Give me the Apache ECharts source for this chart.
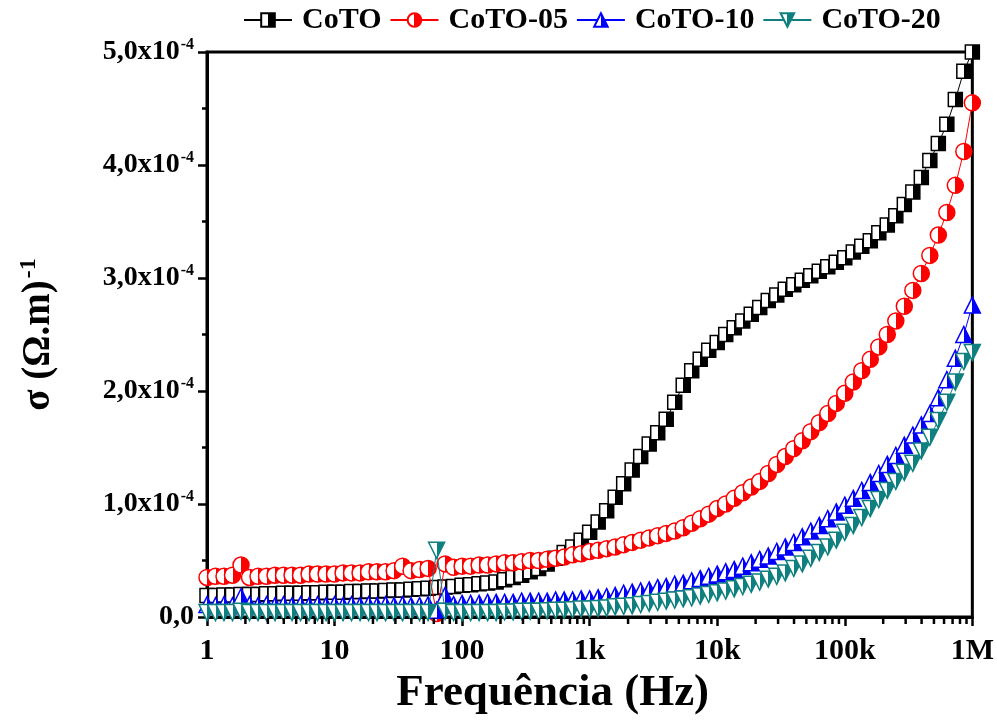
<!DOCTYPE html>
<html>
<head>
<meta charset="utf-8">
<script src="https://cdn.jsdelivr.net/npm/echarts@6/dist/echarts.min.js"></script>
<style>html,body{margin:0;padding:0;background:#fff}#c{width:997px;height:727px}</style>
</head>
<body>
<div id="c"></div>
<script>
// Frequencies (Hz)
const freqs = [1,1.166,1.359,1.585,1.848,2.154,2.512,2.929,3.415,3.981,4.642,5.412,6.31,7.356,8.577,
10,11.66,13.59,15.85,18.48,21.54,25.12,29.29,34.15,39.81,46.42,54.12,63.1,73.56,85.77,
100,116.6,135.9,158.5,184.8,215.4,251.2,292.9,341.5,398.1,464.2,541.2,631,735.6,857.7,
1000,1166,1359,1585,1848,2154,2512,2929,3415,3981,4642,5412,6310,7356,8577,
10000,11660,13590,15850,18480,21540,25120,29290,34150,39810,46420,54120,63100,73560,85770,
100000,116600,135900,158500,184800,215400,251200,292900,341500,398100,464200,541200,631000,735600,857700,
1000000];

// Conductivity in units of 1e-5 (Ω.m)^-1
const coto = [1.9,1.9,1.95,1.95,2.0,2.0,2.0,2.05,2.05,2.1,2.1,2.1,2.15,2.15,2.2,
2.2,2.2,2.25,2.25,2.3,2.3,2.35,2.4,2.4,2.45,2.5,2.55,2.6,2.65,2.7,
2.8,2.85,2.95,3.0,3.1,3.3,3.5,3.7,4.0,4.3,4.7,5.2,5.7,6.2,6.8,
7.5,8.4,9.4,10.6,11.8,13.0,14.2,15.3,16.3,17.5,19.0,20.5,21.8,22.8,23.6,
24.3,25.0,25.6,26.2,26.8,27.4,28.0,28.5,29.0,29.4,29.8,30.2,30.6,31.0,31.4,
31.8,32.3,32.8,33.3,34.0,34.7,35.5,36.5,37.6,38.9,40.4,41.9,43.6,45.8,48.3,50.0];

const coto05 = [3.5,3.6,3.6,3.7,4.6,3.5,3.6,3.6,3.7,3.7,3.7,3.7,3.8,3.8,3.8,
3.8,3.9,3.9,3.9,4.0,4.0,4.0,4.1,4.5,4.1,4.2,4.3,0.3,4.7,4.4,
4.5,4.5,4.6,4.6,4.7,4.8,4.8,4.9,5.0,5.0,5.1,5.2,5.3,5.5,5.6,
5.8,5.9,6.05,6.2,6.4,6.6,6.8,7.0,7.2,7.4,7.6,7.9,8.3,8.7,9.1,
9.6,10.0,10.5,11.0,11.5,12.0,12.7,13.5,14.2,14.9,15.6,16.4,17.2,18.0,18.9,
19.8,20.8,21.8,22.8,23.9,25.0,26.2,27.5,28.9,30.4,32.0,33.8,35.8,38.2,41.2,45.5];

const coto10 = [1.1,1.0,1.1,1.0,1.8,1.1,1.0,1.1,1.0,1.1,1.0,1.1,1.0,1.1,1.0,
1.1,1.0,1.1,1.0,1.1,1.0,1.1,1.0,1.1,1.0,1.0,1.1,0.6,1.9,1.1,
1.2,1.2,1.2,1.3,1.3,1.3,1.3,1.4,1.4,1.4,1.4,1.5,1.5,1.5,1.6,
1.6,1.7,1.8,1.9,2.1,2.2,2.3,2.4,2.6,2.7,2.9,3.0,3.2,3.4,3.6,
3.8,4.0,4.2,4.5,4.8,5.1,5.4,5.8,6.2,6.6,7.1,7.6,8.1,8.7,9.3,
9.9,10.5,11.2,11.9,12.7,13.5,14.3,15.2,16.1,17.0,18.0,19.4,21.0,22.9,25.0,27.6];

const coto20 = [0.4,0.4,0.4,0.4,0.5,0.4,0.4,0.4,0.4,0.4,0.4,0.4,0.4,0.4,0.4,
0.4,0.4,0.4,0.4,0.4,0.4,0.4,0.4,0.4,0.4,0.4,0.4,5.9,0.5,0.4,
0.4,0.4,0.4,0.4,0.4,0.45,0.45,0.5,0.5,0.5,0.55,0.6,0.6,0.65,0.7,
0.7,0.75,0.8,0.9,0.95,1.0,1.1,1.2,1.3,1.4,1.5,1.6,1.7,1.85,2.0,
2.15,2.3,2.5,2.7,2.9,3.1,3.35,3.6,3.9,4.3,4.7,5.2,5.7,6.2,6.8,
7.5,8.1,8.8,9.6,10.4,11.2,12.0,12.8,13.6,14.7,15.9,17.4,19.0,20.8,22.6,23.4];

const seriesNames = ['CoTO','CoTO-05','CoTO-10','CoTO-20'];
const xTickLabels = {1:'1',10:'10',100:'100',1000:'1k',10000:'10k',100000:'100k',1000000:'1M'};

const colors = ['#000000','#ff0000','#0000ff','#0f7f7f'];
const symbols = ['rect','circle','triangle','path://M0,0L10,0L5,10Z'];
const sizes = [14,16,16,16];

function half(c){
  return {type:'linear',x:0,y:0,x2:1,y2:0,colorStops:[
    {offset:0,color:'#ffffff'},{offset:0.5,color:'#ffffff'},
    {offset:0.5,color:c},{offset:1,color:c}]};
}

const allData = [coto, coto05, coto10, coto20];
const series = allData.map((vals,si)=>({
  name: seriesNames[si],
  type:'line',
  data: freqs.map((f,i)=>[f, vals[i]]),
  symbol: symbols[si],
  symbolSize: sizes[si],
  showAllSymbol: true,
  lineStyle:{color:colors[si], width:1},
  itemStyle:{color:half(colors[si]), borderColor:colors[si], borderWidth:1.5},
  emphasis:{disabled:true},
  animation:false,
  z: 2+si
}));

// minor log ticks on x axis
const minorX = [];
for (let d=1; d<1000000; d*=10) for (let m=2; m<=9; m++) minorX.push([m*d, 0]);
series.push({
  type:'custom', silent:true, clip:false, animation:false, z:10,
  data: minorX,
  encode:{x:0,y:1},
  renderItem:(params, api)=>{
    const p = api.coord([api.value(0), api.value(1)]);
    return {type:'line', shape:{x1:p[0],y1:p[1]+1,x2:p[0],y2:p[1]+7}, style:{stroke:'#000',lineWidth:2.5}};
  }
});

const chart = echarts.init(document.getElementById('c'), null, {renderer:'canvas'});
chart.setOption({
  backgroundColor:'#fff',
  animation:false,
  textStyle:{fontFamily:'Liberation Serif'},
  legend:{
    data: seriesNames,
    top: 0, left: 238,
    itemWidth: 48, itemHeight: 17, itemGap: 8,
    textStyle:{fontFamily:'Liberation Serif', fontWeight:'bold', fontSize:30, color:'#000', padding:[0,0,0,5]}
  },
  grid:{left:207, right:24, top:52, bottom:110, show:true, borderColor:'#000', borderWidth:3, backgroundColor:'transparent'},
  xAxis:{
    type:'log', logBase:10, min:1, max:1000000,
    axisLine:{lineStyle:{color:'#000', width:3}},
    axisTick:{length:9, lineStyle:{width:2.5, color:'#000'}},
    minorTick:{show:false},
    splitLine:{show:false},
    axisLabel:{margin:19, color:'#000', fontFamily:'Liberation Serif', fontWeight:'bold', fontSize:30,
      formatter:v=>xTickLabels[Math.round(v)] || ''},
    name:'Frequência (Hz)', nameLocation:'middle', nameGap:52,
    nameTextStyle:{fontFamily:'Liberation Serif', fontWeight:'bold', fontSize:45, color:'#000', padding:[0,74,0,0]}
  },
  yAxis:{
    type:'value', min:0, max:50, interval:10,
    axisLine:{show:true, lineStyle:{color:'#000', width:3}},
    axisTick:{length:9, lineStyle:{width:2.5, color:'#000'}},
    minorTick:{show:true, splitNumber:2, length:5, lineStyle:{width:2.5, color:'#000'}},
    splitLine:{show:false},
    axisLabel:{margin:13, color:'#000',
      formatter:v=> v===0 ? '{a|0,0}' : '{a|'+(v/10).toFixed(1).replace('.',',')+'x10}{b|-4}',
      rich:{
        a:{fontFamily:'Liberation Serif', fontWeight:'bold', fontSize:28, color:'#000'},
        b:{fontFamily:'Liberation Serif', fontWeight:'bold', fontSize:16, color:'#000', verticalAlign:'top', padding:[0,0,14,1]}
      }},
    name:'{m|σ (Ω.m)}{s|-1}', nameLocation:'middle', nameGap:146,
    nameTextStyle:{
      rich:{
        m:{fontFamily:'Liberation Serif', fontWeight:'bold', fontSize:39, color:'#000'},
        s:{fontFamily:'Liberation Serif', fontWeight:'bold', fontSize:24, color:'#000', verticalAlign:'top', padding:[0,0,20,2]}
      }
    }
  },
  series: series
});
</script>
</body>
</html>
